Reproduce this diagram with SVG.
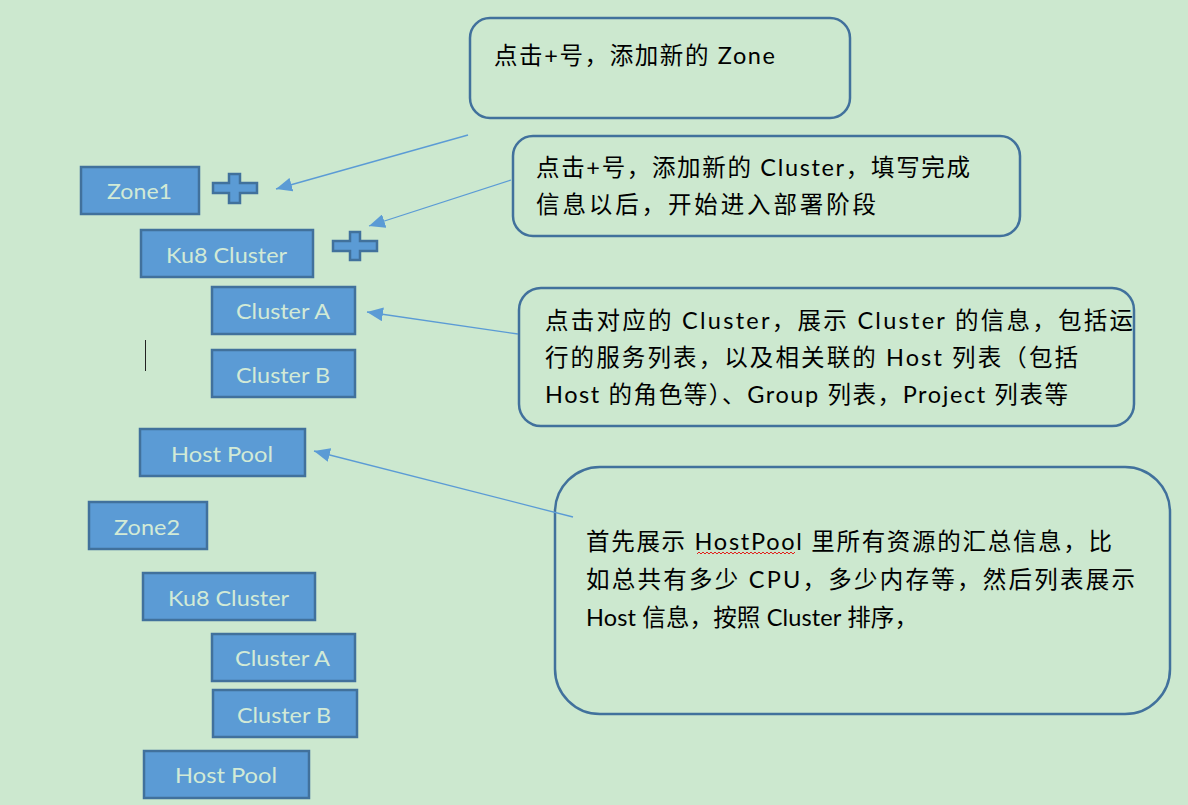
<svg xmlns="http://www.w3.org/2000/svg" width="1188" height="805" viewBox="0 0 1188 805">
<style>
.bg{fill:#cce8cf}
.node rect,.plus{fill:#5b9bd5;stroke:#41719c;stroke-width:2.5}
.node text{fill:#d2ead6;font-family:Lato,"Noto Sans",sans-serif;font-size:22px;text-anchor:start}
.callout rect{fill:none;stroke:#41719c;stroke-width:2.5}
.callout text{fill:#000;font-family:Lato,"Noto Sans CJK SC",sans-serif;font-size:23.5px}
.conn line{stroke:#5b9bd5;stroke-width:1.3}
</style>
<defs>
<marker id="ah" markerUnits="userSpaceOnUse" markerWidth="18" markerHeight="14" refX="16" refY="7" orient="auto">
<path d="M0,0 L16,7 L0,14 z" fill="#5b9bd5"/>
</marker>
</defs>
<rect class="bg" x="0" y="0" width="1188" height="805"/>

<g id="zone1" class="node"><rect x="81" y="167" width="118" height="47"/><text x="107" y="199" textLength="65" lengthAdjust="spacingAndGlyphs">Zone1</text></g>
<g id="plus1"><path class="plus" d="M213,183 H229 V174 H240 V183 H257 V193 H240 V203 H229 V193 H213 Z"/></g>
<g id="ku8cluster1" class="node"><rect x="141" y="230" width="172" height="47"/><text x="166" y="263" textLength="121" lengthAdjust="spacingAndGlyphs">Ku8 Cluster</text></g>
<g id="plus2"><path class="plus" d="M333,241 H350 V232 H360 V241 H377 V251 H360 V260 H350 V251 H333 Z"/></g>
<g id="clusterA1" class="node"><rect x="212" y="287" width="143" height="47"/><text x="236" y="319" textLength="94" lengthAdjust="spacingAndGlyphs">Cluster A</text></g>
<g id="clusterB1" class="node"><rect x="212" y="350" width="143" height="47"/><text x="236" y="383" textLength="94" lengthAdjust="spacingAndGlyphs">Cluster B</text></g>
<g id="hostpool1" class="node"><rect x="140" y="429" width="165" height="47"/><text x="171" y="462" textLength="102" lengthAdjust="spacingAndGlyphs">Host Pool</text></g>
<g id="zone2" class="node"><rect x="89" y="502" width="118" height="47"/><text x="114" y="535" textLength="66" lengthAdjust="spacingAndGlyphs">Zone2</text></g>
<g id="ku8cluster2" class="node"><rect x="143" y="573" width="172" height="47"/><text x="168" y="606" textLength="121" lengthAdjust="spacingAndGlyphs">Ku8 Cluster</text></g>
<g id="clusterA2" class="node"><rect x="212" y="634" width="143" height="47"/><text x="235" y="666" textLength="95" lengthAdjust="spacingAndGlyphs">Cluster A</text></g>
<g id="clusterB2" class="node"><rect x="213" y="690" width="144" height="47"/><text x="237" y="723" textLength="94" lengthAdjust="spacingAndGlyphs">Cluster B</text></g>
<g id="hostpool2" class="node"><rect x="144" y="751" width="165" height="47"/><text x="175" y="783" textLength="102" lengthAdjust="spacingAndGlyphs">Host Pool</text></g>

<line x1="145.5" y1="340" x2="145.5" y2="371" stroke="#222" stroke-width="1"/>

<g id="callout-zone" class="callout"><rect x="470" y="18" width="380" height="100" rx="20"/>
<text x="494" y="64" textLength="281" lengthAdjust="spacing">点击+号，添加新的 Zone</text></g>
<g id="callout-cluster" class="callout"><rect x="513" y="136" width="507" height="100" rx="20"/>
<text x="536" y="176" textLength="434" lengthAdjust="spacing">点击+号，添加新的 Cluster，填写完成</text>
<text x="536" y="213" textLength="340" lengthAdjust="spacing">信息以后，开始进入部署阶段</text></g>
<g id="callout-clusterinfo" class="callout"><rect x="519" y="288" width="615" height="138" rx="22"/>
<text x="545" y="329" textLength="588" lengthAdjust="spacing">点击对应的 Cluster，展示 Cluster 的信息，包括运</text>
<text x="545" y="366" textLength="533" lengthAdjust="spacing">行的服务列表，以及相关联的 Host 列表（包括</text>
<text x="545" y="403" textLength="523" lengthAdjust="spacing">Host 的角色等）、Group 列表，Project 列表等</text></g>
<g id="callout-hostpool" class="callout"><rect x="555" y="467" width="615" height="247" rx="45"/>
<text x="586" y="550" textLength="526" lengthAdjust="spacing">首先展示 HostPool 里所有资源的汇总信息，比</text>
<text x="586" y="588" textLength="549" lengthAdjust="spacing">如总共有多少 CPU，多少内存等，然后列表展示</text>
<text x="586" y="626" textLength="332" lengthAdjust="spacing">Host 信息，按照 Cluster 排序，</text>
<path d="M697,554 l2,-2 l2,2 l2,-2 l2,2 l2,-2 l2,2 l2,-2 l2,2 l2,-2 l2,2 l2,-2 l2,2 l2,-2 l2,2 l2,-2 l2,2 l2,-2 l2,2 l2,-2 l2,2 l2,-2 l2,2 l2,-2 l2,2 l2,-2 l2,2 l2,-2 l2,2 l2,-2 l2,2 l2,-2 l2,2 l2,-2 l2,2 l2,-2 l2,2 l2,-2 l2,2 l2,-2 l2,2 l2,-2 l2,2 l2,-2 l2,2 l2,-2 l2,2 l2,-2 l2,2 l2,-2" fill="none" stroke="#e0201b" stroke-width="1"/></g>

<g id="connectors" class="conn">
<line x1="468" y1="135" x2="276" y2="189" marker-end="url(#ah)"/>
<line x1="511" y1="180" x2="369" y2="226" marker-end="url(#ah)"/>
<line x1="518" y1="334" x2="367" y2="312" marker-end="url(#ah)"/>
<line x1="573" y1="517" x2="314" y2="451" marker-end="url(#ah)"/>
</g>
</svg>
